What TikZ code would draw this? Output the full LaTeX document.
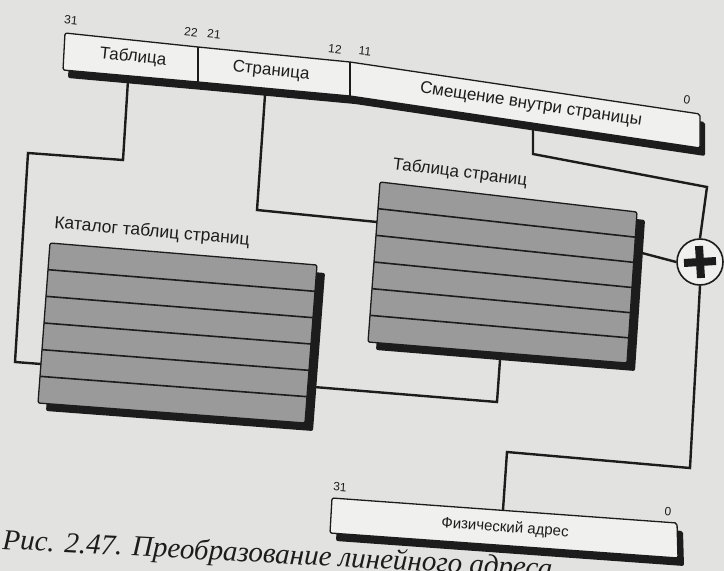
\documentclass[tikz,border=0pt]{standalone}
\usepackage{fontspec}
\setmainfont{Liberation Sans}
\newfontfamily\capfont{Liberation Serif}
\usetikzlibrary{calc}
\definecolor{paper}{HTML}{E2E2E0}
\definecolor{ink}{HTML}{1C1C1C}
\definecolor{cell}{HTML}{9A9A9A}
\definecolor{field}{HTML}{F0F0EE}
\begin{document}
\begin{tikzpicture}[x=1pt,y=-1pt,
  wire/.style={draw=ink,line width=2.4pt,line join=miter},
  frame/.style={draw=ink,line width=1.3pt,rounded corners=2pt},
  shade/.style={fill=ink,rounded corners=2pt},
  sep/.style={draw=ink,line width=1.6pt},
  bit/.style={font=\fontsize{12}{12}\selectfont,text=ink,inner sep=0pt},
  lbl/.style={font=\fontsize{17}{17}\selectfont,text=ink,inner sep=0pt},
]
\fill[paper] (0,0) rectangle (724,571);
\useasboundingbox (0,0) rectangle (724,571);

% ---------- linear address register ----------
\coordinate (la-tl) at (65,33);
\coordinate (la-t1) at (198,47);
\coordinate (la-t2) at (350,62);
\coordinate (la-tr) at (700,114);
\coordinate (la-br) at (700,148);
\coordinate (la-b2) at (350,96);
\coordinate (la-b1) at (198,82);
\coordinate (la-bl) at (63,70);
\fill[shade] ([shift={(5,8)}]la-tl) -- ([shift={(5,8)}]la-t1) -- ([shift={(5,8)}]la-t2)
  -- ([shift={(5,8)}]la-tr) -- ([shift={(5,8)}]la-br) -- ([shift={(5,8)}]la-b2)
  -- ([shift={(5,8)}]la-b1) -- ([shift={(5,8)}]la-bl) -- cycle;
\filldraw[frame,fill=field] (la-tl) -- (la-t1) -- (la-t2) -- (la-tr) -- (la-br)
  -- (la-b2) -- (la-b1) -- (la-bl) -- cycle;
\draw[draw=ink,line width=1.3pt] (la-t1) -- (la-b1);
\draw[draw=ink,line width=1.3pt] (la-t2) -- (la-b2);

\node[lbl,rotate=-6] (f-dir) at (133,57) {Таблица};
\node[lbl,rotate=-5.7] (f-page) at (271,71) {Страница};
\node[lbl,rotate=-8.5] (f-off) at (531,105) {Смещение внутри страницы};
\node[bit,rotate=-6] (b31) at (71,20) {31};
\node[bit,rotate=-6] (b22) at (191,32) {22};
\node[bit,rotate=-6] (b21) at (214,34) {21};
\node[bit,rotate=-6] (b12) at (335,49) {12};
\node[bit,rotate=-6] (b11) at (365,51) {11};
\node[bit,rotate=-8] (b0) at (687,100) {0};

% ---------- page directory ----------
\coordinate (cat-tl) at (50,243);
\coordinate (cat-tr) at (317,265);
\coordinate (cat-br) at (305,423);
\coordinate (cat-bl) at (38,403);
\fill[shade] ([shift={(8,8)}]cat-tl) -- ([shift={(8,8)}]cat-tr)
  -- ([shift={(8,8)}]cat-br) -- ([shift={(8,8)}]cat-bl) -- cycle;
\filldraw[frame,fill=cell] (cat-tl) -- (cat-tr) -- (cat-br) -- (cat-bl) -- cycle;
\foreach \k in {1,...,5}
  \draw[sep] ($(cat-tl)!\k/6!(cat-bl)$) -- ($(cat-tr)!\k/6!(cat-br)$);
\node[lbl,rotate=-5,font=\fontsize{17.5}{17.5}\selectfont] (cat-name) at (152,232) {Каталог таблиц страниц};

% ---------- page table ----------
\coordinate (pt-tl) at (380,182);
\coordinate (pt-tr) at (637,212);
\coordinate (pt-br) at (627,363);
\coordinate (pt-bl) at (368,342);
\fill[shade] ([shift={(8,8)}]pt-tl) -- ([shift={(8,8)}]pt-tr)
  -- ([shift={(8,8)}]pt-br) -- ([shift={(8,8)}]pt-bl) -- cycle;
\filldraw[frame,fill=cell] (pt-tl) -- (pt-tr) -- (pt-br) -- (pt-bl) -- cycle;
\foreach \k in {1,...,5}
  \draw[sep] ($(pt-tl)!\k/6!(pt-bl)$) -- ($(pt-tr)!\k/6!(pt-br)$);
\node[lbl,rotate=-7] (pt-name) at (460,173) {Таблица страниц};

% ---------- adder ----------
\node[circle,draw=ink,line width=1.6pt,fill=field,minimum size=46pt,inner sep=0pt] (sum) at (700,262) {};
\draw[ink,line width=8pt] ($(sum.center)+(-16,1)$) -- ($(sum.center)+(16,-1)$);
\draw[ink,line width=8pt] ($(sum.center)+(-1,-16)$) -- ($(sum.center)+(1,16)$);

% ---------- physical address register ----------
\coordinate (pa-tl) at (332,498);
\coordinate (pa-tr) at (677,523);
\coordinate (pa-br) at (678,558);
\coordinate (pa-bl) at (330,533);
\fill[shade] ([shift={(6,8)}]pa-tl) -- ([shift={(6,8)}]pa-tr)
  -- ([shift={(6,8)}]pa-br) -- ([shift={(6,8)}]pa-bl) -- cycle;
\filldraw[frame,fill=field] (pa-tl) -- (pa-tr) -- (pa-br) -- (pa-bl) -- cycle;
\node[lbl,rotate=-4.3,font=\fontsize{15}{15}\selectfont] (pa-name) at (505,528) {Физический адрес};
\node[bit,rotate=-4] (p31) at (340,487) {31};
\node[bit,rotate=-4] (p0) at (668,512) {0};

% ---------- connectors ----------
\coordinate (dir-out) at (128,80);
\coordinate (dir-a) at (123,160);
\coordinate (dir-b) at (28,153);
\coordinate (dir-c) at (15,362);
\coordinate (cat-in) at (41,364);
\draw[wire] (dir-out) -- (dir-a) -- (dir-b) -- (dir-c) -- (cat-in);

\coordinate (page-out) at (265,95);
\coordinate (page-a) at (257,210);
\coordinate (pt-in) at (377,222);
\draw[wire] (page-out) -- (page-a) -- (pt-in);

\coordinate (cat-out) at (314,387);
\coordinate (cat-a) at (497,402);
\coordinate (pt-up) at (500,360);
\draw[wire] (cat-out) -- (cat-a) -- (pt-up);

\coordinate (off-out) at (533,124);
\coordinate (off-a) at (533,154);
\coordinate (off-b) at (707,187);
\draw[wire] (off-out) -- (off-a) -- (off-b) -- (sum.north);

\coordinate (pt-out) at (642,253);
\draw[wire] (pt-out) -- (sum.west);

\coordinate (sum-a) at (690,468);
\coordinate (sum-b) at (507,452);
\coordinate (pa-in) at (503,510);
\draw[wire] (sum.south) -- (sum-a) -- (sum-b) -- (pa-in);

% ---------- caption ----------
\node[anchor=base west,rotate=-3,inner sep=0pt,text=ink,
  font=\capfont\itshape\fontsize{29}{29}\selectfont] (caption) at (2,549)
  {Рис. 2.47. Преобразование линейного адреса};
\end{tikzpicture}
\end{document}
